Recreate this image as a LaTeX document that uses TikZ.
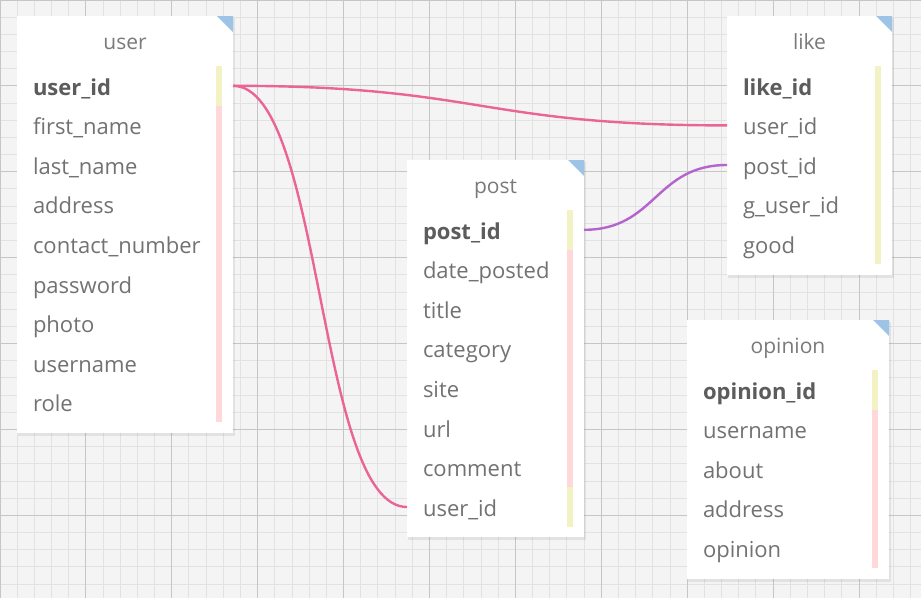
\documentclass[tikz,border=0pt]{standalone}
\usepackage{fontspec}
\setmainfont{Open Sans}
\usetikzlibrary{calc}
\definecolor{gridbg}{HTML}{F4F4F4}
\definecolor{minorc}{HTML}{E2E2E2}
\definecolor{majorc}{HTML}{C6C6C6}
\definecolor{cornerc}{HTML}{9DC3E6}
\definecolor{keyc}{HTML}{F2F2C4}
\definecolor{fieldc}{HTML}{FFD9D9}
\definecolor{textc}{HTML}{727272}
\definecolor{boldc}{HTML}{5C5C5C}
\definecolor{titlec}{HTML}{7A7A7A}
\definecolor{pinkc}{HTML}{EA6496}
\definecolor{purplec}{HTML}{B464CC}
\newcommand\erbox[6]{% name, left, top, right, bottom, title
  \fill[black,opacity=0.07] (#2+1,#3+2) rectangle (#4+2,#5+3);
  \pgfmathsetmacro\erw{#4-#2}\pgfmathsetmacro\erh{#5-#3}
  \node[boxst, minimum width=\erw pt, minimum height=\erh pt, anchor=north west] (#1) at (#2,#3) {};
  \fill[cornerc] (#4-16,#3) -- (#4,#3) -- (#4,#3+16) -- cycle;
  \node[titlest, anchor=base] (#1-title) at ({(#2+#4)/2},#3+33) {#6};
}
\newcommand\errow[7]{% name, left, right, centre y, bar colour, font, text
  \pgfmathsetmacro\erw{#3-#2}\pgfmathsetmacro\ertw{#3-#2-32}
  \node[rowst, minimum width=\erw pt, text width=\ertw pt] (#1) at (#2,#4) {#6#7};
  \fill[#5] ($(#1.north east)+(-17,0)$) rectangle ($(#1.south east)+(-11,0)$);
}
\tikzset{
  boxst/.style={fill=white, draw=none, inner sep=0pt, outer sep=0pt},
  titlest/.style={inner sep=0pt, text=titlec, font=\fontsize{21}{25}\selectfont},
  rowst/.style={anchor=west, inner xsep=16pt, inner ysep=0pt, outer sep=0pt, minimum height=39.6pt,
    align=left, text height=20pt, text depth=1.4pt, text=textc, font=\fontsize{22}{26}\selectfont},
  relpink/.style={draw=pinkc, line width=2.4pt},
  relpurple/.style={draw=purplec, line width=2.4pt},
}
\newcommand\kf{\bfseries\color{boldc}}
\newcommand\nf{}
\begin{document}
\begin{tikzpicture}[x=1pt,y=-1pt]
\useasboundingbox (0,0) rectangle (921,598);
\fill[gridbg] (0,0) rectangle (921,598);
\foreach \i in {0,...,53} { \draw[minorc, line width=1pt] (\i*17.18,0) -- (\i*17.18,598); }
\foreach \j in {0,...,34} { \draw[minorc, line width=1pt] (0,\j*17.18) -- (921,\j*17.18); }
\foreach \i in {0,...,10} { \draw[majorc, line width=1pt] (\i*85.9,0) -- (\i*85.9,598); }
\foreach \j in {0,...,6} { \draw[majorc, line width=1pt] (0,\j*85.9) -- (921,\j*85.9); }

% user
\erbox{user}{17}{16}{233}{433}{user}
\errow{user-r1}{17}{233}{85.8}{keyc}{\kf}{user\_id}
\errow{user-r2}{17}{233}{125.4}{fieldc}{\nf}{first\_name}
\errow{user-r3}{17}{233}{165.0}{fieldc}{\nf}{last\_name}
\errow{user-r4}{17}{233}{204.6}{fieldc}{\nf}{address}
\errow{user-r5}{17}{233}{244.2}{fieldc}{\nf}{contact\_number}
\errow{user-r6}{17}{233}{283.8}{fieldc}{\nf}{password}
\errow{user-r7}{17}{233}{323.4}{fieldc}{\nf}{photo}
\errow{user-r8}{17}{233}{363.0}{fieldc}{\nf}{username}
\errow{user-r9}{17}{233}{402.6}{fieldc}{\nf}{role}

% post
\erbox{post}{407}{160}{584}{537}{post}
\errow{post-r1}{407}{584}{229.8}{keyc}{\kf}{post\_id}
\errow{post-r2}{407}{584}{269.4}{fieldc}{\nf}{date\_posted}
\errow{post-r3}{407}{584}{309.0}{fieldc}{\nf}{title}
\errow{post-r4}{407}{584}{348.6}{fieldc}{\nf}{category}
\errow{post-r5}{407}{584}{388.2}{fieldc}{\nf}{site}
\errow{post-r6}{407}{584}{427.8}{fieldc}{\nf}{url}
\errow{post-r7}{407}{584}{467.4}{fieldc}{\nf}{comment}
\errow{post-r8}{407}{584}{507.0}{keyc}{\nf}{user\_id}

% like
\erbox{like}{727}{16}{892}{275}{like}
\errow{like-r1}{727}{892}{85.8}{keyc}{\kf}{like\_id}
\errow{like-r2}{727}{892}{125.4}{keyc}{\nf}{user\_id}
\errow{like-r3}{727}{892}{165.0}{keyc}{\nf}{post\_id}
\errow{like-r4}{727}{892}{204.6}{keyc}{\nf}{g\_user\_id}
\errow{like-r5}{727}{892}{244.2}{keyc}{\nf}{good}

% opinion
\erbox{opinion}{687}{320}{889}{579}{opinion}
\errow{opinion-r1}{687}{889}{389.8}{keyc}{\kf}{opinion\_id}
\errow{opinion-r2}{687}{889}{429.4}{fieldc}{\nf}{username}
\errow{opinion-r3}{687}{889}{469.0}{fieldc}{\nf}{about}
\errow{opinion-r4}{687}{889}{508.6}{fieldc}{\nf}{address}
\errow{opinion-r5}{687}{889}{548.2}{fieldc}{\nf}{opinion}

% relations
\draw[relpink] (user-r1.east) .. controls +(247,0) and +(-247,0) .. (like-r2.west);
\draw[relpink] (user-r1.east) .. controls +(90,0) and +(-90,0) .. (post-r8.west);
\draw[relpurple] (post-r1.east) .. controls +(72,0) and +(-72,0) .. (like-r3.west);
\end{tikzpicture}
\end{document}
